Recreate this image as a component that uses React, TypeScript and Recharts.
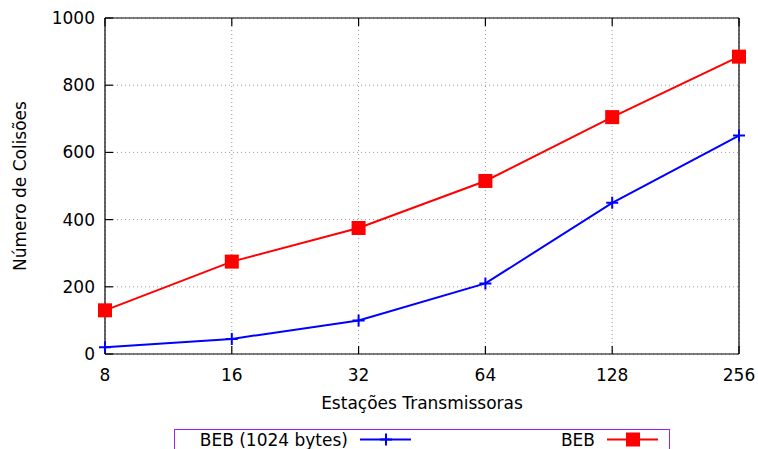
import React from 'react';
import { LineChart, Line, XAxis, YAxis, CartesianGrid } from 'recharts';

const stations = ['8', '16', '32', '64', '128', '256'];
const beb1024 = [20, 45, 100, 210, 450, 650];
const beb = [130, 275, 375, 515, 705, 885];
const yTicks = [0, 200, 400, 600, 800, 1000];

const data = stations.map((s, i) => ({ i, station: s, beb1024: beb1024[i], beb: beb[i] }));
const xTicks = stations.map((_, i) => i);

const FONT = '"DejaVu Sans", sans-serif';
const FS = 17;
const BLUE = '#0000ff';
const RED = '#ff0000';
const PURPLE = '#a020f0';

const PlusDot = (props: any) => {
  const { cx, cy } = props;
  if (cx == null || cy == null) return null;
  return (
    <path
      d={`M${cx - 6},${cy}H${cx + 6}M${cx},${cy - 6}V${cy + 6}`}
      stroke={BLUE}
      strokeWidth={2}
      fill="none"
    />
  );
};

const SquareDot = (props: any) => {
  const { cx, cy } = props;
  if (cx == null || cy == null) return null;
  return <rect x={cx - 7} y={cy - 7} width={14} height={14} fill={RED} />;
};

const YLabel = (props: any) => {
  const vb = props.viewBox || {};
  const cy = vb.y + vb.height / 2;
  return (
    <text
      x={20}
      y={cy}
      transform={`rotate(-90, 20, ${cy})`}
      textAnchor="middle"
      dominantBaseline="central"
      fontFamily={FONT}
      fontSize={FS}
      fill="#000"
    >
      Número de Colisões
    </text>
  );
};

const XLabel = (props: any) => {
  const vb = props.viewBox || {};
  return (
    <text
      x={vb.x + vb.width / 2}
      y={vb.y + 55}
      textAnchor="middle"
      fontFamily={FONT}
      fontSize={FS}
      fill="#000"
    >
      Estações Transmissoras
    </text>
  );
};

const tickStyle = { fontFamily: FONT, fontSize: FS, fill: '#000' };
const axisLine = { stroke: '#000', strokeWidth: 1.2 };
const tickLine = { stroke: '#000', strokeWidth: 1.2 };

export default function App() {
  return (
    <div style={{ position: 'absolute', left: 0, top: 0, width: 758, height: 449, overflow: 'hidden', background: '#fff' }}>
      <LineChart width={758} height={449} data={data} margin={{ top: 0, right: 0, bottom: 0, left: 0 }}>
        <CartesianGrid stroke="#999" strokeDasharray="1 3" strokeWidth={1} />
        <XAxis
          dataKey="i"
          type="number"
          domain={[0, 5]}
          ticks={xTicks}
          tickFormatter={(v: number) => stations[v]}
          height={95}
          tick={tickStyle}
          tickSize={-8}
          tickMargin={23}
          axisLine={axisLine}
          tickLine={tickLine}
          interval={0}
          label={<XLabel />}
        />
        <XAxis
          xAxisId="top"
          orientation="top"
          dataKey="i"
          type="number"
          domain={[0, 5]}
          ticks={xTicks}
          tickFormatter={() => ''}
          height={18}
          tickSize={-8}
          axisLine={axisLine}
          tickLine={tickLine}
          interval={0}
        />
        <YAxis
          type="number"
          domain={[0, 1000]}
          ticks={yTicks}
          width={105}
          tick={tickStyle}
          tickSize={-8}
          tickMargin={18}
          axisLine={axisLine}
          tickLine={tickLine}
          interval={0}
          label={<YLabel />}
        />
        <YAxis
          yAxisId="right"
          orientation="right"
          type="number"
          domain={[0, 1000]}
          ticks={yTicks}
          width={19}
          tickFormatter={() => ''}
          tickSize={-8}
          axisLine={axisLine}
          tickLine={tickLine}
          interval={0}
        />
        <Line
          dataKey="beb1024"
          stroke={BLUE}
          strokeWidth={2}
          dot={<PlusDot />}
          activeDot={false}
          isAnimationActive={false}
        />
        <Line
          dataKey="beb"
          stroke={RED}
          strokeWidth={2}
          dot={<SquareDot />}
          activeDot={false}
          isAnimationActive={false}
        />
      </LineChart>
      <svg width={758} height={449} style={{ position: 'absolute', left: 0, top: 0, pointerEvents: 'none' }}>
        <rect x={174.5} y={429.5} width={495} height={40} fill="none" stroke={PURPLE} strokeWidth={1} />
        <text x={348} y={445.5} textAnchor="end" fontFamily={FONT} fontSize={FS} fill="#000">
          BEB (1024 bytes)
        </text>
        <line x1={360} x2={411} y1={439.5} y2={439.5} stroke={BLUE} strokeWidth={2} />
        <path d="M380,439.5H392M386,433.5V445.5" stroke={BLUE} strokeWidth={2} fill="none" />
        <text x={595} y={445.5} textAnchor="end" fontFamily={FONT} fontSize={FS} fill="#000">
          BEB
        </text>
        <line x1={607} x2={658} y1={439.5} y2={439.5} stroke={RED} strokeWidth={2} />
        <rect x={626} y={432.5} width={14} height={14} fill={RED} />
      </svg>
    </div>
  );
}
